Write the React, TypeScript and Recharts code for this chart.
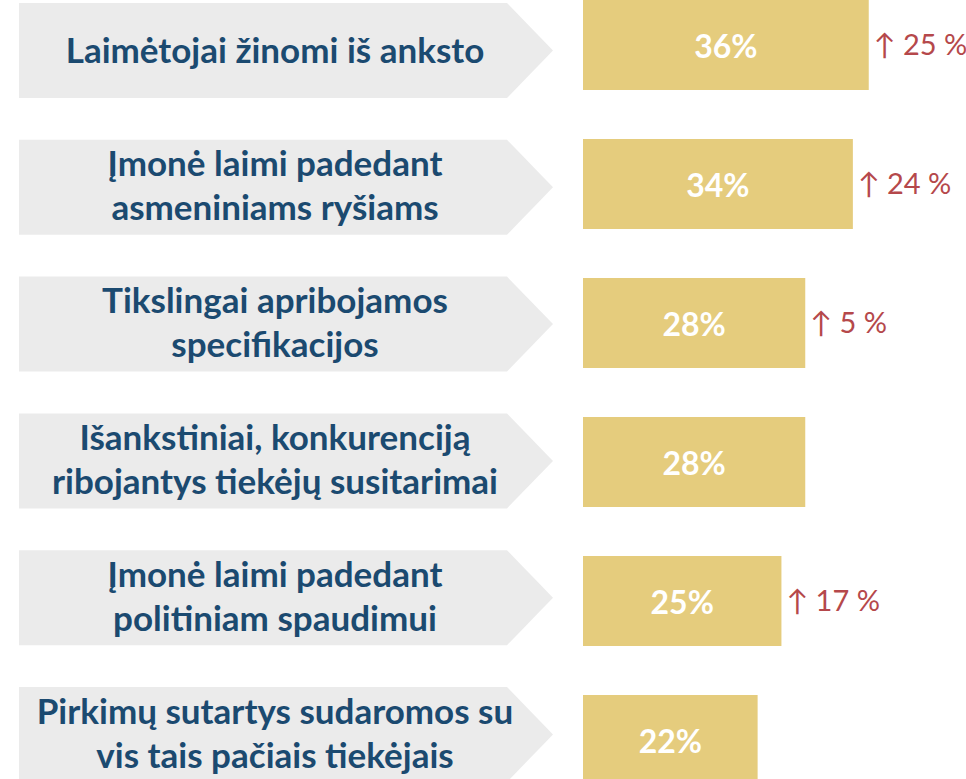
import React from 'react';
import { BarChart, Bar, XAxis, YAxis, LabelList } from 'recharts';

const categories = [
  'Laimėtojai žinomi iš anksto',
  'Įmonė laimi padedant\nasmeniniams ryšiams',
  'Tikslingai apribojamos\nspecifikacijos',
  'Išankstiniai, konkurenciją\nribojantys tiekėjų susitarimai',
  'Įmonė laimi padedant\npolitiniam spaudimui',
  'Pirkimų sutartys sudaromos su\nvis tais pačiais tiekėjais',
];
const shares = [36, 34, 28, 28, 25, 22];
const changes = ['↑ 25 %', '↑ 24 %', '↑ 5 %', '', '↑ 17 %', ''];

const data = categories.map((name, i) => ({ name, value: shares[i], change: changes[i] }));

const BLUE = '#1B4A70';
const GOLD = '#E5CC7D';
const GRAY = '#EBEBEB';
const RED = '#B5484B';
const FONT = 'Lato, "Open Sans", sans-serif';

// the grey arrows sit on a slightly tighter pitch than the bars
const ChevronTick = (props: any) => {
  const { y, payload, index } = props;
  const cy = y + 6 - 2.2 * (index ?? 0);
  const half = 47.5;
  const left = 19, corner = 507, tip = 553;
  const lines = String(payload.value).split('\n');
  const lineGap = 44;
  const start = cy - ((lines.length - 1) * lineGap) / 2;
  const base = lines.length === 1 ? 12 : 11;
  return (
    <g>
      <polygon
        points={`${left},${cy - half} ${corner},${cy - half} ${tip},${cy} ${corner},${cy + half} ${left},${cy + half}`}
        fill={GRAY}
      />
      {lines.map((l, i) => (
        <text key={i} x={275} y={start + i * lineGap + base} textAnchor="middle"
          fill={BLUE} fontFamily={FONT} fontWeight={700} fontSize={35}>
          {l}
        </text>
      ))}
    </g>
  );
};

const ValueLabel = (props: any) => {
  const { x, y, width, height, value } = props;
  return (
    <text x={x + width / 2} y={y + height / 2 + 13} textAnchor="middle" fill="#FFFFFF"
      fontFamily={FONT} fontWeight={700} fontSize={32}>
      {`${value}%`}
    </text>
  );
};

const ChangeLabel = (props: any) => {
  const { x, y, width, height, value } = props;
  if (!value) return null;
  return (
    <text x={x + width + 5} y={y + height / 2 + 10} fill={RED} fontFamily={FONT} fontSize={29}>
      {value}
    </text>
  );
};

export default function App() {
  return (
    <div style={{ position: 'absolute', left: 0, top: 0, width: 966, height: 779, overflow: 'hidden', background: '#fff' }}>
      <div style={{ position: 'absolute', left: 0, top: -25 }}>
        <BarChart width={966} height={834} data={data} layout="vertical"
          margin={{ top: 0, right: 2, bottom: 0, left: 0 }}>
          <XAxis type="number" domain={[0, 48]} hide />
          <YAxis type="category" dataKey="name" width={583} axisLine={false} tickLine={false}
            tick={<ChevronTick />} interval={0} />
          <Bar dataKey="value" fill={GOLD} barSize={90} isAnimationActive={false}>
            <LabelList dataKey="value" content={<ValueLabel />} />
            <LabelList dataKey="change" content={<ChangeLabel />} />
          </Bar>
        </BarChart>
      </div>
    </div>
  );
}
